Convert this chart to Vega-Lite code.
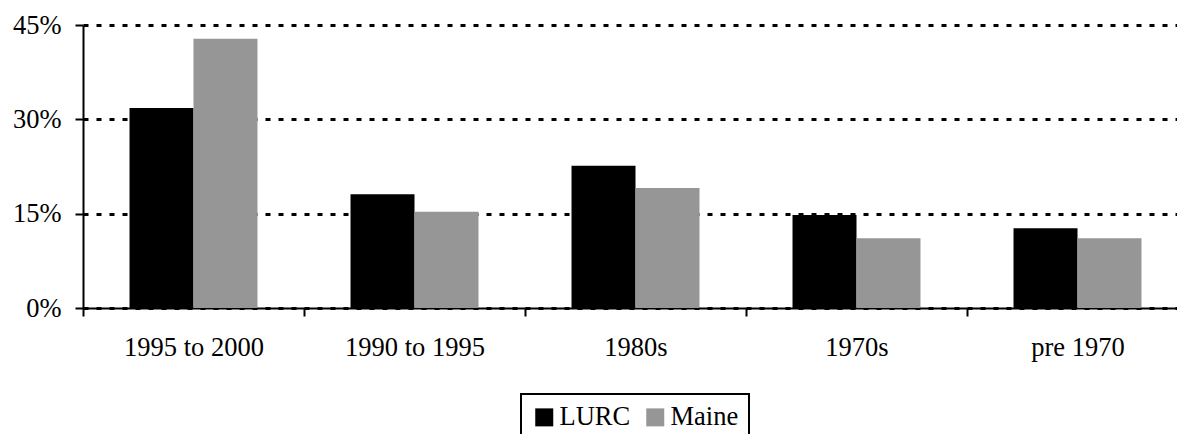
{
  "$schema": "https://vega.github.io/schema/vega-lite/v6.json",
  "autosize": {"type": "none"},
  "width": 1094,
  "height": 283,
  "padding": {"left": 83, "top": 25, "right": 0, "bottom": 126},
  "background": "white",
  "data": {
    "values": [
      {"period": "1995 to 2000", "series": "LURC", "value": 0.318},
      {"period": "1995 to 2000", "series": "Maine", "value": 0.428},
      {"period": "1990 to 1995", "series": "LURC", "value": 0.181},
      {"period": "1990 to 1995", "series": "Maine", "value": 0.153},
      {"period": "1980s", "series": "LURC", "value": 0.226},
      {"period": "1980s", "series": "Maine", "value": 0.191},
      {"period": "1970s", "series": "LURC", "value": 0.148},
      {"period": "1970s", "series": "Maine", "value": 0.111},
      {"period": "pre 1970", "series": "LURC", "value": 0.127},
      {"period": "pre 1970", "series": "Maine", "value": 0.111}
    ]
  },
  "mark": {"type": "bar"},
  "encoding": {
    "x": {
      "field": "period",
      "type": "nominal",
      "sort": ["1995 to 2000", "1990 to 1995", "1980s", "1970s", "pre 1970"],
      "scale": {"range": [0, 1105], "paddingInner": 0, "paddingOuter": 0},
      "axis": {
        "title": null,
        "labelAngle": 0,
        "labelFont": "Times New Roman, Liberation Serif, serif",
        "labelFontSize": 26.5,
        "labelColor": "black",
        "labelPadding": 18,
        "domainColor": "black",
        "domainWidth": 2,
        "tickColor": "black",
        "tickWidth": 2,
        "tickSize": 8,
        "tickBand": "extent",
        "grid": false
      }
    },
    "xOffset": {
      "field": "series",
      "type": "nominal",
      "sort": ["LURC", "Maine"],
      "scale": {"paddingInner": 0, "paddingOuter": 0.727}
    },
    "y": {
      "field": "value",
      "type": "quantitative",
      "scale": {"domain": [0, 0.45], "nice": false},
      "axis": {
        "title": null,
        "values": [0, 0.15, 0.3, 0.45],
        "format": ".0%",
        "labelFont": "Times New Roman, Liberation Serif, serif",
        "labelFontSize": 26.5,
        "labelColor": "black",
        "labelPadding": 14,
        "domainColor": "black",
        "domainWidth": 2,
        "tickColor": "black",
        "tickWidth": 2,
        "tickSize": 8,
        "grid": true,
        "gridColor": "black",
        "gridDash": [5, 8],
        "gridWidth": 3,
        "gridOpacity": 1
      }
    },
    "color": {
      "field": "series",
      "type": "nominal",
      "scale": {"domain": ["LURC", "Maine"], "range": ["#000000", "#969696"]},
      "legend": {
        "title": null,
        "orient": "none",
        "legendX": 438,
        "legendY": 369,
        "direction": "horizontal",
        "strokeColor": "black",
        "fillColor": "white",
        "padding": 10,
        "symbolType": "square",
        "symbolSize": 324,
        "symbolStrokeWidth": 0,
        "symbolOpacity": 1,
        "labelFont": "Times New Roman, Liberation Serif, serif",
        "labelFontSize": 26.5,
        "labelColor": "black",
        "labelOffset": 2,
        "columnPadding": 11,
        "encode": {"legend": {"update": {"strokeWidth": {"value": 2}}}}
      }
    }
  },
  "config": {"view": {"stroke": null}}
}
